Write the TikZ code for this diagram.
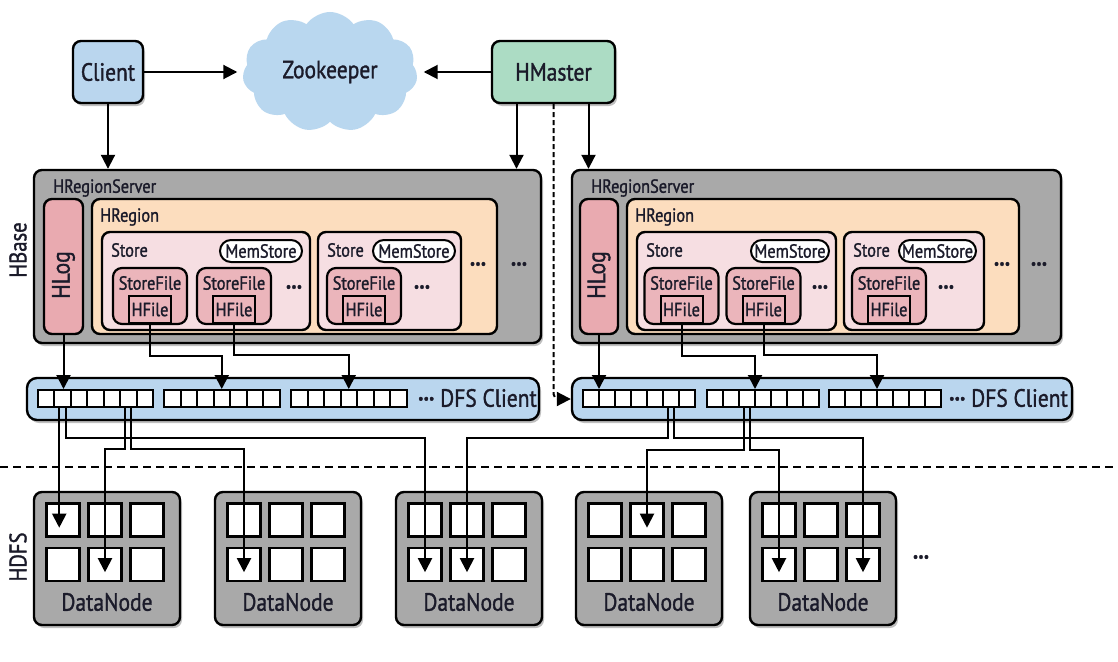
\documentclass[tikz,border=0pt]{standalone}
\usepackage{fontspec}
\setmainfont{PT Sans}[FakeStretch=0.86,FakeBold=1.3]
\usetikzlibrary{shapes.symbols,shadows,arrows.meta}
\definecolor{txt}{HTML}{1B1B2A}
\definecolor{cblue}{HTML}{BAD6EE}
\definecolor{cgreen}{HTML}{ACDCC4}
\definecolor{cgray}{HTML}{A9A9A9}
\definecolor{cpink}{HTML}{E9AAB0}
\definecolor{cpeach}{HTML}{FCDDBE}
\definecolor{cstore}{HTML}{F6DEE2}
\definecolor{csf}{HTML}{EBB5BB}
\definecolor{ccloud}{HTML}{B9D7EF}
\newcommand\fbig{\fontsize{25}{25}\selectfont}
\newcommand\fmid{\fontsize{19}{19}\selectfont}
\newcommand\fside{\fontsize{24}{24}\selectfont}
\newcommand\mkbox[7]{\node[#2,minimum width={(#5)-(#3)},minimum height={(#6)-(#4)}] (#1) at ({((#3)+(#5))/2},{((#4)+(#6))/2}) {#7};}
\tikzset{
  box/.style={draw=black,line width=2.4pt,rounded corners=8pt},
  shd/.style={drop shadow={shadow xshift=2pt,shadow yshift=-3pt,fill=black,opacity=0.25}},
  cell/.style={draw=black,fill=white,line width=2pt,minimum height=17,inner sep=0pt},
  blk/.style={draw=black,fill=white,line width=2.4pt,minimum width=33,minimum height=33,inner sep=0pt},
  arr/.style={line width=2pt,-{Triangle[width=14pt,length=14pt]}},
  dsh/.style={line width=2pt,dash pattern=on 5pt off 3pt,-{Triangle[width=14pt,length=14pt]},rounded corners=5pt},
  sf/.style={box,fill=csf,rounded corners=9pt,line width=2.2pt},
  hf/.style={draw=black,fill=csf,line width=2pt,font=\fmid},
  mem/.style={draw=black,fill=white,line width=2pt,rounded corners=11pt,font=\fmid},
  lbl/.style={anchor=west,font=\fmid},
  dots/.style={font=\fbig\bfseries},
}
\begin{document}
\begin{tikzpicture}[x=1pt,y=-1pt,every node/.style={text=txt,inner sep=0pt}]
\fill[white] (0,0) rectangle (1118,661);
\useasboundingbox (0,0) rectangle (1118,661);

% top row
\node[cloud,cloud puffs=11,cloud puff arc=110,aspect=1.6,fill=ccloud,minimum width=175,minimum height=120,font=\fbig] (zk) at (330,72) {Zookeeper};
\mkbox{client}{box,fill=cblue,font=\fbig,shd}{73}{41}{143}{103}{Client}
\mkbox{hmaster}{box,fill=cgreen,font=\fbig,shd}{492}{41}{615}{103}{HMaster}

% region servers
\foreach \s/\xa/\xb/\hl/\hr/\ra/\rb in {L/34/541/44/83/92/497, R/572/1061/580/618/627/1019}{
  \mkbox{hrs\s}{box,fill=cgray,shd}{\xa}{170}{\xb}{343}{}
  \node[lbl] (hrs\s lab) at (\xa+19,188) {HRegionServer};
  \mkbox{hlog\s}{box,fill=cpink,rounded corners=8pt}{\hl}{199}{\hr}{334}{}
  \node[rotate=90,font=\fbig] (hlog\s t) at ({(\hl+\hr)/2},275) {HLog};
  \mkbox{hreg\s}{box,fill=cpeach}{\ra}{199}{\rb}{334}{}
  \node[lbl] (hreg\s lab) at (\ra+8,217) {HRegion};
}
% stores
\foreach \n/\xa/\xb/\ma/\mb in {L1/102/310/220/302, L2/318/461/373/455, R1/637/836/751/829, R2/844/984/899/976}{
  \mkbox{st\n}{box,fill=cstore}{\xa}{232}{\xb}{330}{}
  \node[lbl] (st\n lab) at (\xa+9,250) {Store};
  \mkbox{mem\n}{mem}{\ma}{240}{\mb}{262}{MemStore}
}
% storefiles
\foreach \n/\c in {L1/150, L2/234, L3/364, R1/681.5, R2/763.5, R3/889}{
  \mkbox{sf\n}{sf}{\c-37}{268}{\c+37}{324}{}
  \node[font=\fmid] (sf\n t) at (\c,283) {StoreFile};
  \mkbox{hf\n}{hf}{\c-21}{296}{\c+21}{323}{HFile}
}
\foreach \n/\x/\y in {1/294/290, 2/422/290, 3/478/267, 4/519/267, 5/820/290, 6/946/290, 7/1002/267, 8/1039/267}{
  \node[dots] (dots\n) at (\x,\y) {···};
}

% DFS client bars
\mkbox{dfsL}{box,fill=cblue,rounded corners=10pt,shd}{27}{378}{539}{420}{}
\mkbox{dfsR}{box,fill=cblue,rounded corners=10pt,shd}{572}{378}{1072}{420}{}
\foreach \g/\x in {1/37.5,2/164,3/291}{
  \foreach \i in {1,...,7}{
    \node[cell,minimum width=16.5] (cL\g\i) at ({\x+(\i-0.5)*16.5},398.5) {};
  }
}
\foreach \g/\x in {1/583,2/707,3/829}{
  \foreach \i in {1,...,7}{
    \node[cell,minimum width=16] (cR\g\i) at ({\x+(\i-0.5)*16},398.5) {};
  }
}
\node[font=\fbig,anchor=east] (dfsLlab) at (537,398) {\textbf{···} DFS Client};
\node[font=\fbig,anchor=east] (dfsRlab) at (1068,398) {\textbf{···} DFS Client};

% separator
\coordinate (sepA) at (0,467);
\coordinate (sepB) at (1118,467);
\draw[line width=2.5pt,dash pattern=on 8pt off 5pt] (sepA) -- (sepB);

% data nodes
\foreach \n/\l in {1/34,2/215,3/396,4/576,5/750}{
  \mkbox{dn\n}{box,fill=cgray,shd}{\l}{492}{\l+146}{625}{}
  \foreach \c/\o in {1/29,2/71,3/113}{
    \node[blk] (b\n1\c) at (\l+\o,520) {};
    \node[blk] (b\n2\c) at (\l+\o,564.5) {};
  }
  \node[font=\fbig] (dnt\n) at (\l+73,602) {DataNode};
}
\node[dots] (dotsdn) at (921,560) {···};

% side labels
\node[rotate=90,font=\fside] (hbase) at (18,250) {HBase};
\node[rotate=90,font=\fside] (hdfs) at (18,557) {HDFS};

% top connectors
\draw[arr] (client.east) -- ([xshift=-6pt]client.east -| zk.west);
\draw[arr] (hmaster.west) -- ([xshift=7pt]hmaster.west -| zk.east);
\draw[arr] (client.south) -- (client.south |- hrsL.north);
\draw[arr] ([xshift=-37pt]hmaster.south) -- ([xshift=-37pt]hmaster.south |- hrsL.north);
\draw[arr] ([xshift=35pt]hmaster.south) -- ([xshift=35pt]hmaster.south |- hrsR.north);
\draw[dsh] (hmaster.south) |- (dfsR.west);

% region server -> DFS client
\draw[arr] (hlogL.south) -- (hlogL.south |- cL12.north);
\draw[arr] (hfL1.south) -- ++(0,32) -| (cL24.north);
\draw[arr] (hfL2.south) -- ++(0,31) -| (cL34.north);
\draw[arr] (hlogR.south) -- (hlogR.south |- cR11.north);
\draw[arr] (hfR1.south) -- ++(0,32) -| ([xshift=-8pt]cR24.north);
\draw[arr] (hfR2.south) -- ++(0,31) -| ([xshift=-8pt]cR34.north);

% DFS client -> data nodes
\draw[arr] ([xshift=-3pt]cL12.south) -- ([xshift=-3pt,yshift=10pt]cL12.south |- b111.south);
\draw[arr] ([xshift=4pt]cL12.south) -- ++(0,30) -| ([yshift=10pt]b321.south);
\draw[arr] ([xshift=-3pt]cL16.south) -- ++(0,41) -| ([yshift=10pt]b122.south);
\draw[arr] ([xshift=3pt]cL16.south) -- ++(0,41) -| ([yshift=10pt]b221.south);
\draw[arr] ([xshift=-3pt]cR16.south) -- ++(0,30) -| ([yshift=10pt]b322.south);
\draw[arr] ([xshift=3pt]cR16.south) -- ++(0,30) -| ([yshift=10pt]b523.south);
\draw[arr] ([xshift=-3pt]cR23.south) -- ++(0,42) -| ([yshift=10pt]b412.south);
\draw[arr] ([xshift=3pt]cR23.south) -- ++(0,42) -| ([yshift=10pt]b521.south);
\end{tikzpicture}
\end{document}
